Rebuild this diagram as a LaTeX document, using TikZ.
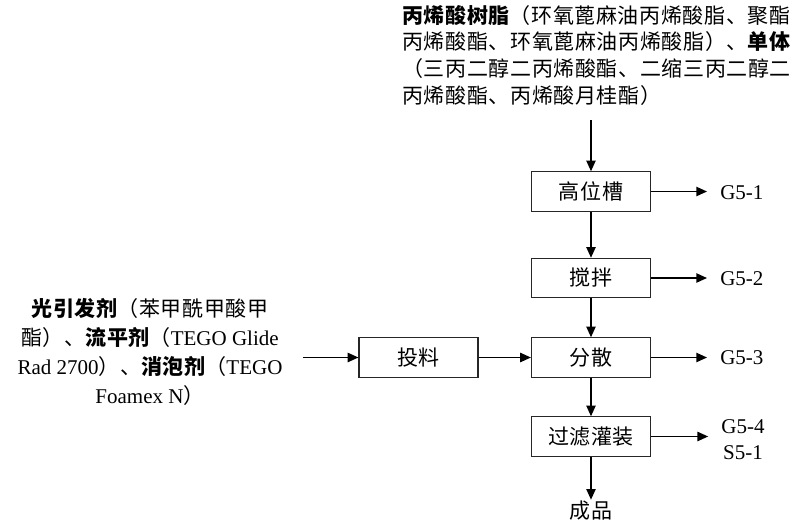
\documentclass[tikz,border=0pt]{standalone}
\usepackage{fontspec}
\setmainfont{Liberation Serif}
\newfontfamily\cjkf{Noto Sans CJK SC}[LetterSpace=3]
\newcommand{\zhs}[1]{{\cjkf #1}}
\newcommand{\zhb}[1]{{\cjkf\bfseries #1}}
\usetikzlibrary{arrows.meta}
\begin{document}
\begin{tikzpicture}[x=0.75pt,y=-0.75pt,
  every node/.style={font=\fontsize{15.75}{20}\selectfont},
  proc/.style={draw=black!85,line width=0.9pt,minimum width=89.25pt,minimum height=29.5pt,inner sep=0pt,font=\fontsize{15.75}{20}\selectfont\cjkf},
  arr/.style={-{Triangle[length=8pt,width=7pt]},line width=1pt},
  lbl/.style={inner sep=0pt,anchor=west}]
\useasboundingbox (0,0) rectangle (801,522);
% top input text
\node[anchor=west,align=left,inner sep=0pt,font=\fontsize{15.75}{20}\selectfont] (top) at (402,55)
 {\zhb{丙烯酸树脂}\zhs{（环氧蓖麻油丙烯酸脂、聚酯}\\
  \zhs{丙烯酸酯、环氧蓖麻油丙烯酸脂）、}\zhb{单体}\\
  \zhs{（三丙二醇二丙烯酸酯、二缩三丙二醇二}\\
  \zhs{丙烯酸酯、丙烯酸月桂酯）}};
% left input text
\node[align=center,inner sep=0pt,font=\fontsize{15.75}{21.75}\selectfont] (lt) at (150,352)
 {\zhb{光引发剂}\zhs{（苯甲酰甲酸甲}\\
  \zhs{酯）、}\zhb{流平剂}\zhs{（}TEGO Glide\\
  Rad 2700\zhs{）、}\zhb{消泡剂}\zhs{（}TEGO\\
  Foamex N\zhs{）}};
% process boxes
\node[proc] (gw) at (591,191.5) {高位槽};
\node[proc] (jb) at (591,278) {搅拌};
\node[proc] (fs) at (591,357.5) {分散};
\node[proc] (gl) at (591,436.5) {过滤灌装};
\node[proc] (tl) at (418.5,357.5) {投料};
\node[inner sep=1pt,font=\fontsize{15.75}{20}\selectfont\cjkf] (cp) at (591,511) {成品};
% outputs
\node[lbl] (g1) at (720,193) {G5-1};
\node[lbl] (g2) at (720,279) {G5-2};
\node[lbl] (g3) at (720,357.5) {G5-3};
\node[align=center,inner sep=0pt,font=\fontsize{15.75}{19.5}\selectfont] (g4) at (743,440) {G5-4\\S5-1};
% connectors
\coordinate (tin) at (591,120);
\coordinate (lin) at (303,357.5);
\draw[arr] (tin) -- (gw.north);
\draw[arr] (gw) -- (jb);
\draw[arr] (jb) -- (fs);
\draw[arr] (fs) -- (gl);
\draw[arr] (gl) -- (cp);
\draw[arr] (lin) -- (tl.west);
\draw[arr] (tl) -- (fs);
\draw[arr,shorten >=9.75pt] (gw.east) -- (g1.west |- gw.east);
\draw[arr,shorten >=9.75pt] (jb.east) -- (g2.west |- jb.east);
\draw[arr,shorten >=9.75pt] (fs.east) -- (g3.west |- fs.east);
\draw[arr,shorten >=9.75pt] (gl.east) -- (g4.west |- gl.east);
\end{tikzpicture}
\end{document}
